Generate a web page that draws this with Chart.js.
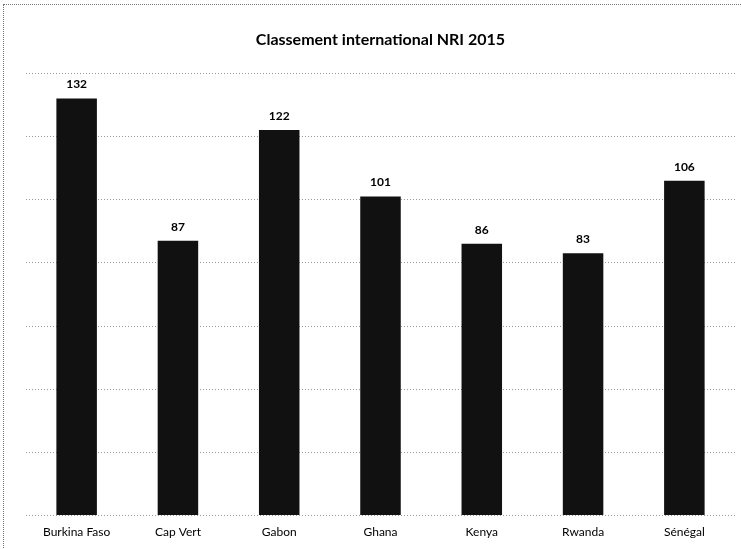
<!DOCTYPE html>
<html><head><meta charset="utf-8">
<script src="https://cdn.jsdelivr.net/npm/chart.js@4/dist/chart.umd.min.js"></script>
<style>
html,body{margin:0;padding:0;background:#fff;}
#wrap{position:relative;width:741px;height:549px;}
#frame{position:absolute;left:3px;top:4px;width:740px;height:560px;border:1px dotted #777;box-sizing:border-box;pointer-events:none;}
</style></head>
<body>
<div id="wrap"><canvas id="c" width="741" height="549"></canvas><div id="frame"></div></div>
<script>
const categories = ["Burkina Faso","Cap Vert","Gabon","Ghana","Kenya","Rwanda","Sénégal"];
const values = [132, 87, 122, 101, 86, 83, 106];
const titleText = "Classement international NRI 2015";

const labelPlugin = {
  id:'barLabels',
  afterDatasetsDraw(chart){
    const ctx = chart.ctx;
    const meta = chart.getDatasetMeta(0);
    ctx.save();
    ctx.font = "bold 12px Lato, 'Open Sans', sans-serif";
    ctx.fillStyle = "#000";
    ctx.textAlign = "center";
    ctx.textBaseline = "bottom";
    meta.data.forEach((bar,i)=>{
      ctx.fillText(String(chart.data.datasets[0].data[i]), bar.x, bar.y - 8);
    });
    ctx.restore();
  }
};

new Chart(document.getElementById('c'), {
  type:'bar',
  data:{labels:categories, datasets:[{data:values, backgroundColor:'#111111', borderColor:'#000', borderWidth:0, barPercentage:0.8, categoryPercentage:0.5}]},
  options:{
    responsive:false, animation:false,
    layout:{padding:{left:26,right:6,top:14,bottom:9}},
    plugins:{
      legend:{display:false}, tooltip:{enabled:false},
      title:{display:true, text:titleText, color:'#000', font:{family:"Lato, 'Open Sans', sans-serif", size:16, weight:'bold'}, padding:{top:16,bottom:24}}
    },
    scales:{
      x:{grid:{display:false}, border:{display:false}, ticks:{color:'#000', font:{family:"Lato, 'Open Sans', sans-serif", size:12}, padding:1}},
      y:{min:0,max:140, ticks:{display:false, stepSize:20}, border:{display:false, dash:[1,2]}, grid:{color:'#999', lineWidth:1, drawTicks:false}}
    }
  },
  plugins:[labelPlugin]
});
</script>
</body></html>
